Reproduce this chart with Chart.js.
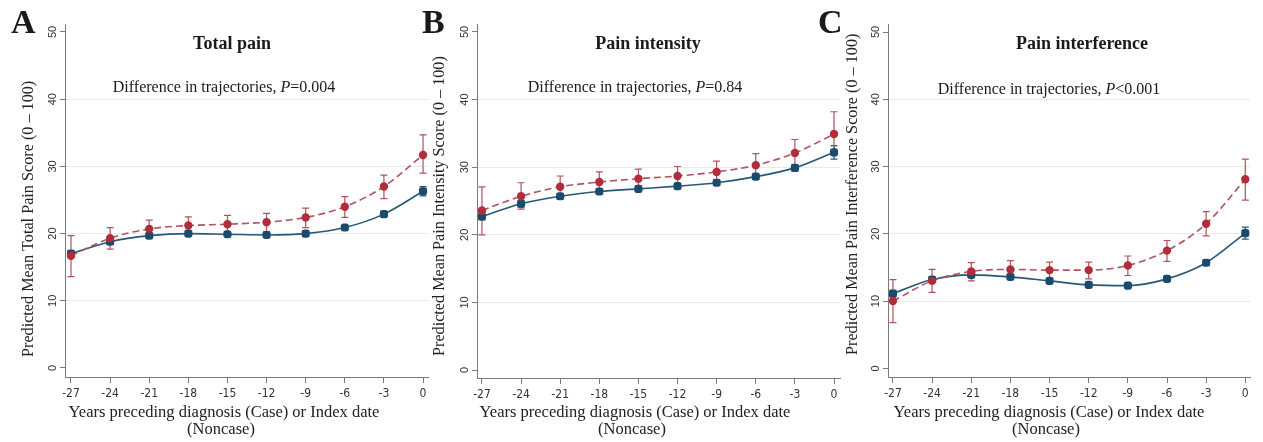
<!DOCTYPE html>
<html>
<head>
<meta charset="utf-8">
<script src="https://cdn.jsdelivr.net/npm/chart.js@4.4.1/dist/chart.umd.min.js"></script>
<style>
html, body { margin: 0; padding: 0; background: #fff; }
#wrap { position: relative; width: 1263px; height: 442px; overflow: hidden; }
canvas { position: absolute; left: 0; top: 0; }
</style>
</head>
<body>
<div id="wrap">
  <canvas id="pA" width="1263" height="442"></canvas>
  <canvas id="pB" width="1263" height="442"></canvas>
  <canvas id="pC" width="1263" height="442"></canvas>
</div>
<script>
// years before diagnosis / index date
const years = [-27, -24, -21, -18, -15, -12, -9, -6, -3, 0];
const yTickValues = [0, 10, 20, 30, 40, 50];

// A: total pain
const totalCase      = [16.7, 19.3, 20.7, 21.2, 21.4, 21.7, 22.4, 24.0, 27.0, 31.7];
const totalCaseLo    = [13.6, 17.7, 19.4, 19.9, 20.2, 20.3, 20.9, 22.4, 25.2, 29.0];
const totalCaseHi    = [19.7, 20.9, 22.0, 22.5, 22.7, 23.0, 23.8, 25.5, 28.7, 34.7];
const totalNoncase   = [17.0, 18.8, 19.7, 20.0, 19.9, 19.8, 20.0, 20.9, 22.9, 26.3];
const totalNoncaseLo = [16.5, 18.4, 19.4, 19.7, 19.6, 19.5, 19.7, 20.6, 22.5, 25.6];
const totalNoncaseHi = [17.5, 19.2, 20.0, 20.3, 20.2, 20.1, 20.3, 21.2, 23.3, 27.0];

// B: pain intensity
const intensCase      = [23.6, 25.7, 27.1, 27.8, 28.3, 28.7, 29.3, 30.3, 32.1, 34.9];
const intensCaseLo    = [20.0, 23.8, 25.3, 26.2, 26.8, 27.2, 27.7, 28.6, 30.2, 31.7];
const intensCaseHi    = [27.1, 27.7, 28.7, 29.3, 29.7, 30.1, 30.9, 32.0, 34.1, 38.2];
const intensNoncase   = [22.7, 24.6, 25.7, 26.4, 26.8, 27.2, 27.7, 28.6, 29.9, 32.2];
const intensNoncaseLo = [22.2, 24.1, 25.3, 26.0, 26.4, 26.8, 27.3, 28.2, 29.4, 31.2];
const intensNoncaseHi = [23.2, 25.1, 26.1, 26.8, 27.2, 27.6, 28.1, 29.0, 30.4, 33.2];

// C: pain interference
const interfCase      = [10.0, 13.0, 14.4, 14.7, 14.6, 14.6, 15.3, 17.5, 21.5, 28.1];
const interfCaseLo    = [6.8, 11.3, 13.0, 13.3, 13.3, 13.3, 13.8, 15.9, 19.7, 25.0];
const interfCaseHi    = [13.2, 14.7, 15.7, 16.0, 15.8, 15.8, 16.7, 19.0, 23.3, 31.1];
const interfNoncase   = [11.1, 13.2, 13.9, 13.6, 13.0, 12.4, 12.3, 13.3, 15.7, 20.1];
const interfNoncaseLo = [10.6, 12.8, 13.6, 13.3, 12.7, 12.1, 12.0, 13.0, 15.3, 19.2];
const interfNoncaseHi = [11.6, 13.6, 14.2, 13.9, 13.3, 12.7, 12.6, 13.6, 16.1, 21.0];

const W = 1263, H = 442;
const SERIF = '"Liberation Serif", "Times New Roman", serif';
const SANS = '"Liberation Sans", Arial, sans-serif';
const NARROW = '"Liberation Sans Narrow", "DejaVu Sans Condensed", sans-serif';
const RED = '#b22d3b', RED_LINE = '#b3525d';
const BLUE = '#1a4b6d', BLUE_LINE = '#285878';
const AXIS = '#7a7a7a';

function pts(ys) {
  return years.map((x, i) => ({ x: x, y: ys[i] }));
}

const decor = {
  id: 'decor',
  beforeDatasetsDraw(chart) {
    const ctx = chart.ctx, xs = chart.scales.x, ys = chart.scales.y;
    ctx.save();
    chart.data.datasets.slice().reverse().forEach(ds => {
      ctx.strokeStyle = ds.barColor;
      ctx.lineWidth = 1.2;
      ds.lo.forEach((lo, i) => {
        const px = xs.getPixelForValue(years[i]);
        const y1 = ys.getPixelForValue(lo), y2 = ys.getPixelForValue(ds.hi[i]);
        ctx.beginPath();
        ctx.moveTo(px, y1); ctx.lineTo(px, y2);
        ctx.moveTo(px - 3.5, y1); ctx.lineTo(px + 3.5, y1);
        ctx.moveTo(px - 3.5, y2); ctx.lineTo(px + 3.5, y2);
        ctx.stroke();
      });
    });
    ctx.restore();
  },
  afterDraw(chart) {
    const p = chart.options.plugins.decor;
    const ctx = chart.ctx, ys = chart.scales.y;
    ctx.save();
    ctx.fillStyle = '#1a1a1a';

    // panel letter
    ctx.font = 'bold 34px ' + SERIF;
    ctx.textAlign = 'left';
    ctx.textBaseline = 'alphabetic';
    ctx.fillText(p.letter, p.letterX, 33);

    // panel title
    ctx.font = 'bold 18px ' + SERIF;
    ctx.textAlign = 'center';
    ctx.fillText(p.title, p.titleX, 49);

    // p-value note with italic P
    const parts = [[p.note[0], '16px '], [p.note[1], 'italic 16px '], [p.note[2], '16px ']];
    let total = 0;
    parts.forEach(q => { ctx.font = q[1] + SERIF; total += ctx.measureText(q[0]).width; });
    let x = p.noteX - total / 2;
    ctx.textAlign = 'left';
    parts.forEach(q => {
      ctx.font = q[1] + SERIF;
      ctx.fillText(q[0], x, p.noteY);
      x += ctx.measureText(q[0]).width;
    });

    // x axis title, two lines
    ctx.fillStyle = '#222';
    ctx.font = '16.5px ' + SERIF;
    ctx.textAlign = 'center';
    ctx.fillText('Years preceding diagnosis (Case) or Index date', p.xTitleX, 417);
    ctx.fillText('(Noncase)', p.xTitleX - 3, 434);

    // y axis title, rotated
    ctx.save();
    ctx.font = '16.2px ' + SERIF;
    ctx.translate(p.yTitleX, p.yTitleY);
    ctx.rotate(-Math.PI / 2);
    ctx.textAlign = 'left';
    ctx.fillText(p.yTitle, 0, 0);
    ctx.restore();

    // y tick labels, rotated
    ctx.font = '11px ' + SANS;
    ctx.fillStyle = '#333';
    yTickValues.forEach(v => {
      ctx.save();
      ctx.translate(chart.chartArea.left - 9, ys.getPixelForValue(v));
      ctx.rotate(-Math.PI / 2);
      ctx.textAlign = 'center';
      ctx.textBaseline = 'alphabetic';
      ctx.fillText(String(v), 0, 0);
      ctx.restore();
    });
    ctx.restore();
  }
};

function makePanel(id, p, caseV, caseLo, caseHi, ncV, ncLo, ncHi) {
  return new Chart(document.getElementById(id), {
    type: 'line',
    data: {
      datasets: [
        {
          label: 'Case', data: pts(caseV), lo: caseLo, hi: caseHi, barColor: RED_LINE,
          borderColor: RED_LINE, borderWidth: 1.6, borderDash: [7, 4],
          pointStyle: 'circle', pointRadius: 3.4, pointBackgroundColor: RED, pointBorderColor: RED,
          cubicInterpolationMode: 'monotone', fill: false
        },
        {
          label: 'Noncase', data: pts(ncV), lo: ncLo, hi: ncHi, barColor: BLUE_LINE,
          borderColor: BLUE_LINE, borderWidth: 1.6,
          pointStyle: 'rectRounded', pointRadius: 3.8, pointBackgroundColor: BLUE, pointBorderColor: BLUE,
          cubicInterpolationMode: 'monotone', fill: false
        }
      ]
    },
    options: {
      responsive: false,
      animation: false,
      events: [],
      layout: { padding: { left: p.axisX - 5, right: W - p.right, top: p.top, bottom: H - p.bottom - 20 } },
      plugins: { legend: { display: false }, tooltip: { enabled: false }, decor: p },
      scales: {
        x: {
          type: 'linear', min: p.xMin, max: p.xMax,
          afterBuildTicks: s => { s.ticks = years.map(v => ({ value: v })); },
          afterFit: s => { s.height = 20; },
          grid: { drawOnChartArea: false, drawTicks: true, tickLength: 6, tickColor: AXIS, tickWidth: 1 },
          border: { display: true, color: AXIS, width: 1 },
          ticks: { autoSkip: false, maxRotation: 0, minRotation: 0, padding: 4, color: '#333',
                   font: { family: NARROW, size: 12 } }
        },
        y: {
          type: 'linear', min: p.yMin, max: p.yMax,
          afterBuildTicks: s => { s.ticks = yTickValues.map(v => ({ value: v })); },
          afterFit: s => { s.width = 5; },
          grid: {
            color: c => (c.tick && (c.tick.value === 0 || c.tick.value === 50)) ? 'rgba(0,0,0,0)' : '#e9e9e9',
            lineWidth: 1, tickLength: 5, tickColor: AXIS, tickWidth: 1
          },
          border: { display: true, color: AXIS, width: 1 },
          ticks: { display: false }
        }
      }
    },
    plugins: [decor]
  });
}

makePanel('pA', {
  axisX: 65, right: 428, top: 24, bottom: 377,
  xMin: -27.46, xMax: 0.38, yMin: -1.34, yMax: 51.19,
  letter: 'A', letterX: 11, title: 'Total pain', titleX: 232,
  note: ['Difference in trajectories, ', 'P', '=0.004'], noteX: 224, noteY: 92,
  xTitleX: 224, yTitle: 'Predicted Mean Total Pain Score (0 \u2013 100)', yTitleX: 33, yTitleY: 357
}, totalCase, totalCaseLo, totalCaseHi, totalNoncase, totalNoncaseLo, totalNoncaseHi);

makePanel('pB', {
  axisX: 477, right: 840, top: 24, bottom: 378,
  xMin: -27.38, xMax: 0.46, yMin: -1.18, yMax: 51.18,
  letter: 'B', letterX: 422, title: 'Pain intensity', titleX: 648,
  note: ['Difference in trajectories, ', 'P', '=0.84'], noteX: 635, noteY: 92,
  xTitleX: 635, yTitle: 'Predicted Mean Pain Intensity Score (0 \u2013 100)', yTitleX: 444, yTitleY: 356
}, intensCase, intensCaseLo, intensCaseHi, intensNoncase, intensNoncaseLo, intensNoncaseHi);

makePanel('pC', {
  axisX: 888, right: 1250, top: 24, bottom: 377,
  xMin: -27.38, xMax: 0.36, yMin: -1.29, yMax: 51.19,
  letter: 'C', letterX: 818, title: 'Pain interference', titleX: 1082,
  note: ['Difference in trajectories, ', 'P', '<0.001'], noteX: 1049, noteY: 94,
  xTitleX: 1049, yTitle: 'Predicted Mean Pain Interference Score (0 \u2013 100)', yTitleX: 857, yTitleY: 355
}, interfCase, interfCaseLo, interfCaseHi, interfNoncase, interfNoncaseLo, interfNoncaseHi);
</script>
</body>
</html>
